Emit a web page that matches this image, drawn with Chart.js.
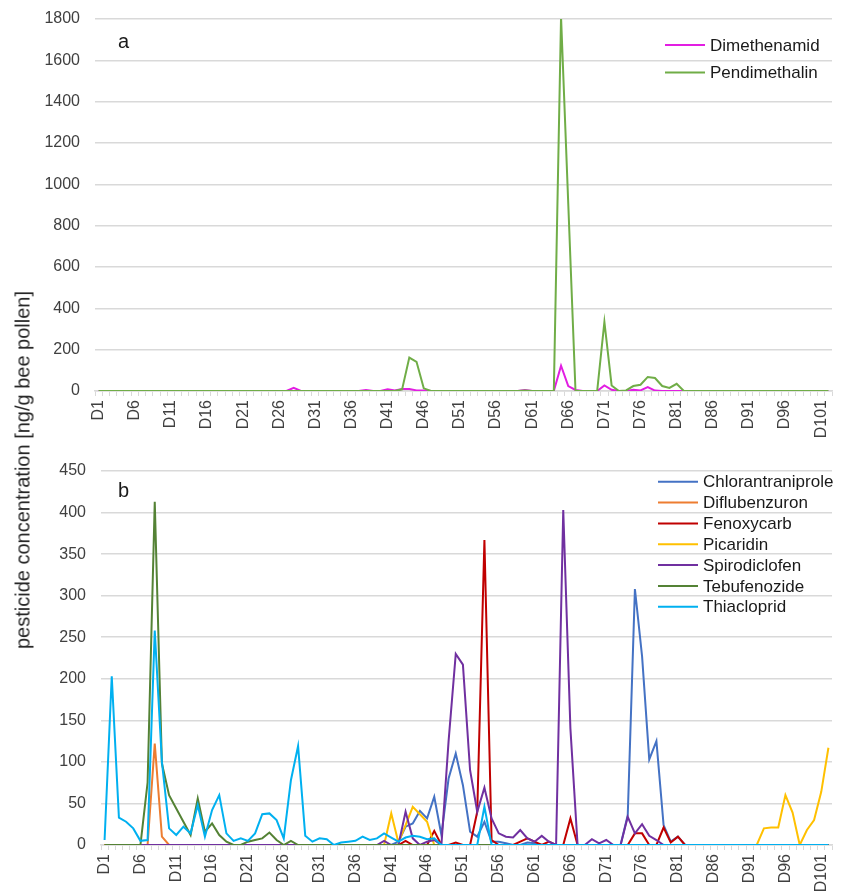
<!DOCTYPE html>
<html><head><meta charset="utf-8">
<script src="https://cdn.jsdelivr.net/npm/chart.js@4"></script>
<style>
html,body{margin:0;padding:0;background:#fff;}
#wrap{position:relative;width:844px;height:893px;overflow:hidden;}
#c1{position:absolute;left:0;top:0;}
#c2{position:absolute;left:0;top:450px;}
#ytitle{position:absolute;left:23px;top:470px;transform:translate(-50%,-50%) rotate(-90deg);white-space:nowrap;font:20px "Liberation Sans",Arial,sans-serif;color:#262626;}
</style></head>
<body>
<div id="wrap">
<canvas id="c1" width="844" height="450"></canvas>
<canvas id="c2" width="844" height="443"></canvas>
<div id="ytitle">pesticide concentration [ng/g bee pollen]</div>
</div>
<script>
const days = ["D1","D2","D3","D4","D5","D6","D7","D8","D9","D10",
"D11","D12","D13","D14","D15","D16","D17","D18","D19","D20",
"D21","D22","D23","D24","D25","D26","D27","D28","D29","D30",
"D31","D32","D33","D34","D35","D36","D37","D38","D39","D40",
"D41","D42","D43","D44","D45","D46","D47","D48","D49","D50",
"D51","D52","D53","D54","D55","D56","D57","D58","D59","D60",
"D61","D62","D63","D64","D65","D66","D67","D68","D69","D70",
"D71","D72","D73","D74","D75","D76","D77","D78","D79","D80",
"D81","D82","D83","D84","D85","D86","D87","D88","D89","D90",
"D91","D92","D93","D94","D95","D96","D97","D98","D99","D100",
"D101","D102"];

const topTicks = {min:0, max:1800, step:200};
const bottomTicks = {min:0, max:450, step:50};

// Panel a
const dimethenamid = [
0,0,0,0,0,0,0,0,0,0,
0,0,0,0,0,0,0,0,0,0,
0,0,0,0,0,0,0,15,0,0,
0,0,0,0,0,0,0,5,0,0,
8,2,10,10,3,2,0,0,0,0,
0,0,0,0,0,0,0,0,0,5,
0,0,0,0,122,24,5,0,0,0,
27,6,0,0,6,3,19,2,0,0,
0,0,0,0,0,0,0,0,0,0,
0,0,0,0,0,0,0,0,0,0,
0,0];
const pendimethalin = [
0,0,0,0,0,0,0,0,0,0,
0,0,0,0,0,0,0,0,0,0,
0,0,0,0,0,0,0,0,0,0,
0,0,0,0,0,0,0,0,0,0,
0,0,8,162,141,13,0,0,0,0,
0,0,0,0,0,0,0,0,0,3,
0,0,0,0,1810,905,0,0,0,0,
334,27,0,3,24,30,68,63,24,15,
35,0,0,0,0,0,0,0,0,0,
0,0,0,0,0,0,0,0,0,0,
0,0];

// Panel b
const chlorantraniprole = [
0,0,0,0,0,0,0,0,0,0,
0,0,0,0,0,0,0,0,0,0,
0,0,0,0,0,0,0,0,0,0,
0,0,0,0,0,0,0,0,0,0,
0,4,22,26,41,32,58,12,80,110,
72,16,10,28,4,4,2,0,0,3,
2,0,0,0,0,0,0,0,0,0,
0,0,0,36,308,227,103,125,24,4,
10,0,0,0,0,0,0,0,0,0,
0,0,0,0,0,0,0,0,0,0,
0,0];
const diflubenzuron = [
0,0,0,0,0,0,0,122,10,0,
0,0,0,0,0,0,0,0,0,0,
0,0,0,0,0,0,0,0,0,0,
0,0,0,0,0,0,0,0,0,0,
0,0,0,0,0,0,0,0,0,0,
0,0,0,0,0,0,0,0,0,0,
0,0,0,0,0,0,0,0,0,0,
0,0,0,0,0,0,0,0,0,0,
0,0,0,0,0,0,0,0,0,0,
0,0,0,0,0,0,0,0,0,0,
0,0];
const fenoxycarb = [
0,0,0,0,0,0,0,0,0,0,
0,0,0,0,0,0,0,0,0,0,
0,0,0,0,0,0,0,0,0,0,
0,0,0,0,0,0,0,0,0,0,
0,0,5,0,0,0,17,0,0,3,
0,0,40,367,6,0,0,0,4,8,
4,0,4,0,0,32,0,0,0,0,
0,0,0,0,14,14,0,0,21,3,
10,0,0,0,0,0,0,0,0,0,
0,0,0,0,0,0,0,0,0,0,
0,0];
const picaridin = [
0,0,0,0,0,0,0,0,0,0,
0,0,0,0,0,0,0,0,0,0,
0,0,0,0,0,0,0,0,0,0,
0,0,0,0,0,0,0,0,0,0,
38,3,24,46,37,28,0,0,0,0,
0,0,0,0,0,0,0,0,0,0,
0,0,0,0,0,0,0,0,0,0,
0,0,0,0,0,0,0,0,0,0,
0,0,0,0,0,0,0,0,0,0,
0,0,20,21,21,60,39,0,18,30,
64,117];
const spirodiclofen = [
null,null,null,null,null,0,0,0,0,0,
0,0,0,0,0,0,0,0,0,0,
0,0,0,0,0,0,0,0,0,0,
0,0,0,0,0,0,0,0,0,5,
0,0,40,8,0,4,6,0,125,230,
217,90,40,69,32,14,10,9,18,8,
4,11,4,0,403,140,0,0,7,2,
6,0,0,34,14,25,11,6,0,0,
0,0,0,0,0,0,0,0,0,0,
0,0,0,0,0,0,0,0,0,0,
0,0];
const tebufenozide = [
0,0,0,0,0,0,75,413,98,60,
44,28,12,56,16,26,12,4,0,0,
4,6,8,15,6,0,5,0,0,0,
0,0,0,0,0,0,0,0,0,0,
0,0,0,0,0,0,0,0,0,0,
0,0,0,0,0,0,0,0,0,0,
0,0,0,0,0,0,0,0,0,0,
0,0,0,0,0,0,0,0,0,0,
0,0,0,0,0,0,0,0,0,0,
0,0,0,0,0,0,0,0,0,0,
0,0];
const thiacloprid = [
6,203,33,28,20,5,6,258,100,20,
12,22,14,48,10,42,60,14,5,8,
5,14,37,38,30,8,78,119,11,4,
8,7,0,3,4,5,10,6,8,14,
9,4,9,11,10,7,8,0,0,0,
0,0,0,46,0,0,0,0,0,0,
0,0,0,0,0,0,0,0,0,0,
0,0,0,0,0,0,0,0,0,0,
0,0,0,0,0,0,0,0,0,0,
0,0,0,0,0,0,0,0,0,0,
0,0];

const seriesA = [
  {label:"Dimethenamid", data:dimethenamid, color:"#E21EE2"},
  {label:"Pendimethalin", data:pendimethalin, color:"#70AD47"}
];
const seriesB = [
  {label:"Chlorantraniprole", data:chlorantraniprole, color:"#4472C4"},
  {label:"Diflubenzuron", data:diflubenzuron, color:"#ED7D31"},
  {label:"Fenoxycarb", data:fenoxycarb, color:"#C00000"},
  {label:"Picaridin", data:picaridin, color:"#FFC000"},
  {label:"Spirodiclofen", data:spirodiclofen, color:"#7030A0"},
  {label:"Tebufenozide", data:tebufenozide, color:"#548235"},
  {label:"Thiacloprid", data:thiacloprid, color:"#00B0F0"}
];

const FONT = '"Liberation Sans", Arial, sans-serif';
const TICK_COLOR = '#404040';
const GRID = '#D9D9D9';

const panelPlugin = {
  id: 'panel',
  afterDraw(chart, args, o) {
    const ctx = chart.ctx, a = chart.chartArea;
    ctx.save();
    ctx.fillStyle = '#1a1a1a';
    ctx.font = '20px ' + FONT;
    ctx.textBaseline = 'alphabetic';
    ctx.textAlign = 'left';
    ctx.fillText(o.letter, a.left + o.letterDx, o.letterY);
    ctx.font = '17px ' + FONT;
    ctx.textBaseline = 'middle';
    chart.data.datasets.forEach((ds, i) => {
      const y = o.legendY + i * o.legendGap;
      const x0 = a.right - o.legendDx;
      ctx.strokeStyle = ds.borderColor;
      ctx.lineWidth = 2;
      ctx.beginPath(); ctx.moveTo(x0, y); ctx.lineTo(x0 + 40, y); ctx.stroke();
      ctx.fillStyle = '#1a1a1a';
      ctx.fillText(ds.label, x0 + 45, y + 1);
    });
    ctx.restore();
  }
};

function makeChart(id, series, ticks, yWidth, xHeight, padTop, panelOpts) {
  const n = series.length;
  return new Chart(document.getElementById(id), {
    type: 'line',
    data: {
      labels: days,
      datasets: series.map((s, i) => ({
        label: s.label, data: s.data, borderColor: s.color, backgroundColor: s.color,
        borderWidth: 2, pointRadius: 0, tension: 0, fill: false, order: n - 1 - i
      }))
    },
    options: {
      responsive: false, animation: false,
      layout: {padding: {top: padTop, right: 12, left: 0, bottom: 0}},
      plugins: {legend: {display: false}, tooltip: {enabled: false}, panel: panelOpts},
      scales: {
        x: {
          type: 'category', offset: true,
          grid: {offset: true, drawOnChartArea: false, drawTicks: true, tickLength: 5, color: GRID, lineWidth: 1},
          border: {color: GRID, width: 1.5},
          ticks: {autoSkip: false, maxRotation: 90, minRotation: 90, padding: 4, color: TICK_COLOR,
            font: {size: 16, family: FONT},
            callback: (v, i) => (i % 5 === 0 ? days[i] : '')},
          afterFit: (s) => { s.height = xHeight; s.paddingLeft = 0; s.paddingRight = 0; }
        },
        y: {
          min: ticks.min, max: ticks.max,
          ticks: {stepSize: ticks.step, padding: 15, color: TICK_COLOR, font: {size: 16, family: FONT},
            callback: (v) => String(v)},
          grid: {color: GRID, lineWidth: 1.5, drawTicks: false},
          border: {display: false},
          afterFit: (s) => { s.width = yWidth; s.paddingTop = 0; s.paddingBottom = 0; }
        }
      }
    },
    plugins: [panelPlugin]
  });
}

makeChart('c1', seriesA, topTicks, 95, 59, 19,
  {letter: 'a', letterDx: 23, letterY: 48, legendY: 45, legendGap: 27.5, legendDx: 167});
makeChart('c2', seriesB, bottomTicks, 101, 48, 21,
  {letter: 'b', letterDx: 17, letterY: 47, legendY: 31.7, legendGap: 20.85, legendDx: 174});
</script>
</body></html>
